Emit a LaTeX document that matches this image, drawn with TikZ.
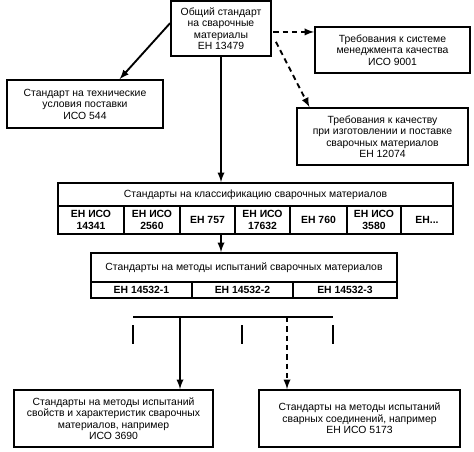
\documentclass[tikz,border=0pt]{standalone}
\usepackage{fontspec}
\setmainfont{Liberation Sans}
\tikzset{
  box/.style={draw, line width=1.4pt, align=center, inner sep=1pt,
    font=\fontsize{7.8}{8.6}\selectfont},
  cell/.style={box, font=\fontsize{7.8}{8.6}\selectfont\bfseries},
  arr/.style={-latex, line width=1.4pt},
  darr/.style={arr, dash pattern=on 4pt off 3pt},
}
\begin{document}
\begin{tikzpicture}[x=0.75pt,y=-0.75pt]
  \useasboundingbox (0,0) rectangle (474,451);
  % upper part
  \node[box, minimum width=75pt, minimum height=41.25pt] (gen) at (221,28.5)
    {Общий стандарт\\на сварочные\\материалы\\ЕН 13479};
  \node[box, minimum width=116.25pt, minimum height=34.5pt] (iso9001) at (392.5,50)
    {Требования к системе\\менеджмента качества\\ИСО 9001};
  \node[box, minimum width=117pt, minimum height=36pt] (iso544) at (85,104)
    {Стандарт на технические\\условия поставки\\ИСО 544};
  \node[box, minimum width=128.25pt, minimum height=42.75pt] (en12074) at (382.5,136.5)
    {Требования к качеству\\при изготовлении и поставке\\сварочных материалов\\ЕН 12074};
  \draw[arr] ([yshift=4pt]gen.west) -- ([xshift=26pt]iso544.north);
  \draw[darr] ([yshift=-2.6pt,xshift=1pt]gen.east) coordinate (g1) -- (g1 -| iso9001.west);
  \draw[darr] ([xshift=3pt,yshift=-10pt]gen.east) -- ([xshift=10pt]en12074.north west);
  % classification
  \node[box, minimum width=296.25pt, minimum height=17.25pt] (cls) at (255.5,194.5)
    {Стандарты на классификацию сварочных материалов};
  \foreach \xa/\xb/\txt [count=\i] in {58/124/{ЕН ИСО\\14341}, 124/180/{ЕН ИСО\\2560},
      180/235/{ЕН 757}, 235/290/{ЕН ИСО\\17632}, 290/347/{ЕН 760},
      347/401/{ЕН ИСО\\3580}, 401/453/{ЕН...}} {
    \node[cell, minimum width={(\xb-\xa)*0.75pt}, minimum height=21pt] (cls\i)
      at ({(\xa+\xb)/2},220) {\txt};
  }
  \draw[arr] (gen.south) -- (gen.south |- cls.north);
  % test methods
  \node[box, minimum width=229.5pt, minimum height=21.75pt] (test) at (244,267.5)
    {Стандарты на методы испытаний сварочных материалов};
  \foreach \xa/\xb/\txt [count=\i] in {91/192/{ЕН 14532-1}, 192/293/{ЕН 14532-2},
      293/397/{ЕН 14532-3}} {
    \node[cell, minimum width={(\xb-\xa)*0.75pt}, minimum height=12pt] (test\i)
      at ({(\xa+\xb)/2},290) {\txt};
  }
  \draw[arr] (gen.south |- cls3.south) -- (gen.south |- test.north);
  % lower part
  \node[box, minimum width=149.25pt, minimum height=42.75pt] (iso3690) at (113.5,418.5)
    {Стандарты на методы испытаний\\свойств и характеристик сварочных\\материалов, например\\ИСО 3690};
  \node[box, minimum width=150.75pt, minimum height=42.75pt] (iso5173) at (359.5,418.5)
    {Стандарты на методы испытаний\\сварных соединений, например\\ЕН ИСО 5173};
  \coordinate (busL) at (133,317);
  \coordinate (busR) at (333,317);
  \draw[line width=1.4pt] (busL) -- (busR);
  \foreach \x in {133,242,333} {
    \draw[line width=1.4pt] (\x,325) -- (\x,344);
  }
  \coordinate (tapA) at (180,317);
  \coordinate (tapB) at (287,317);
  \draw[arr] (tapA) -- (tapA |- iso3690.north);
  \draw[darr] (tapB) -- (tapB |- iso5173.north);
\end{tikzpicture}
\end{document}
